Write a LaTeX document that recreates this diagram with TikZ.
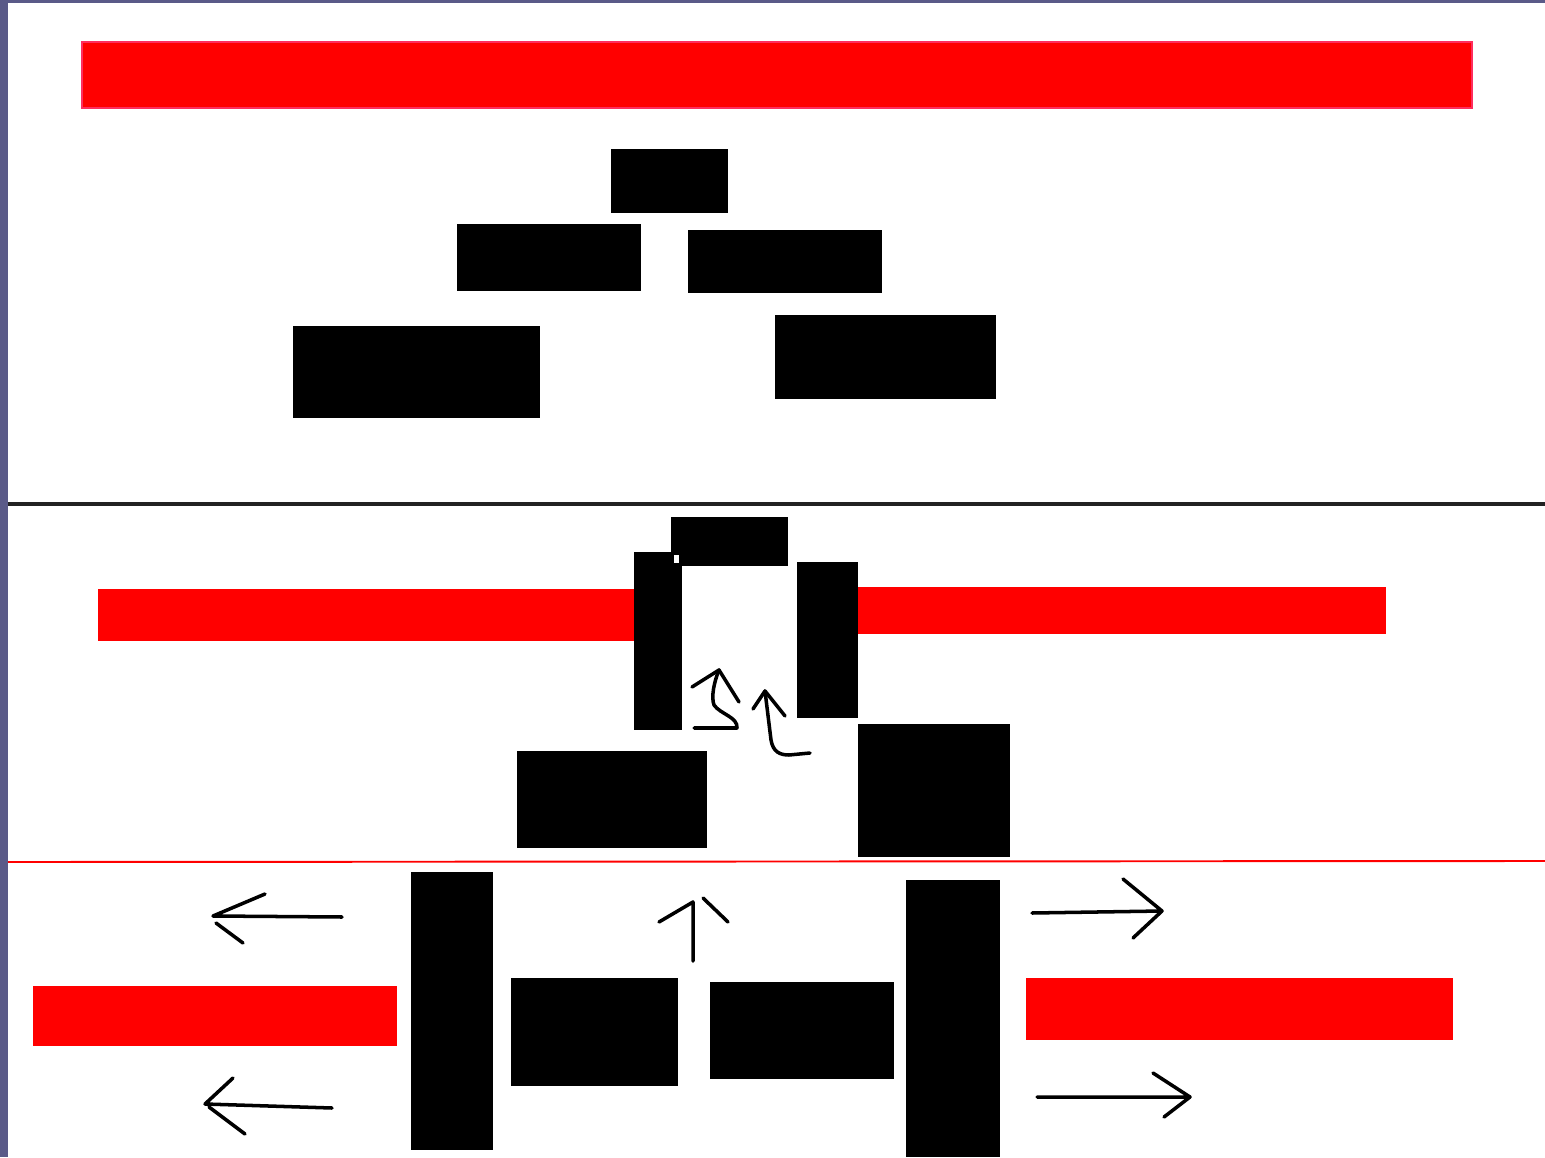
\documentclass[tikz,border=0pt]{standalone}
\usetikzlibrary{positioning}
\definecolor{slate}{HTML}{5A5A88}
\definecolor{barred}{HTML}{FF0000}
\definecolor{barrim}{HTML}{FF2D5E}
\definecolor{rule}{HTML}{222222}

\begin{document}
\begin{tikzpicture}[blk/.style={rectangle,fill=black,inner sep=0pt,outer sep=0pt},bar/.style={rectangle,fill=barred,inner sep=0pt,outer sep=0pt},pen/.style={line width=2pt,line cap=round,line join=round}]
\useasboundingbox (0,0) rectangle (30.9,23.14);
\fill[white] (0,0) rectangle (30.9,23.14);
\fill[slate] (0,0) rectangle (0.16,23.14);
\fill[slate] (0,23.08) rectangle (30.9,23.14);
% top part
\node[bar,draw=barrim,line width=1.1pt,minimum width=27.8cm,minimum height=1.32cm] (topbar) at (15.54,21.64) {};
\node[blk,minimum width=2.34cm,minimum height=1.28cm] (t1) at (13.39,19.52) {};
\node[blk,minimum width=3.68cm,minimum height=1.34cm] (t2) at (10.98,17.99) {};
\node[blk,minimum width=3.88cm,minimum height=1.26cm] (t3) at (15.70,17.91) {};
\node[blk,minimum width=4.94cm,minimum height=1.84cm] (t4) at (8.33,15.70) {};
\node[blk,minimum width=4.42cm,minimum height=1.68cm] (t5) at (17.71,16.00) {};
\draw[rule,line width=2pt] (0.16,13.06) -- (30.9,13.06);
% middle part
\node[bar,minimum width=10.84cm,minimum height=1.04cm] (mbarl) at (7.38,10.84) {};
\node[bar,minimum width=10.62cm,minimum height=0.94cm] (mbarr) at (22.41,10.93) {};
\node[blk,minimum width=2.34cm,minimum height=0.98cm] (mtop) at (14.59,12.31) {};
\node[blk,minimum width=0.96cm,minimum height=3.56cm] (mleft) at (13.16,10.32) {};
\node[blk,minimum width=1.22cm,minimum height=3.12cm] (mright) at (16.55,10.34) {};
\node[blk,minimum width=3.80cm,minimum height=1.94cm] (mlow1) at (12.24,7.15) {};
\node[blk,minimum width=3.04cm,minimum height=2.66cm] (mlow2) at (18.68,7.33) {};
\fill[white] (13.48,11.88) rectangle (13.58,12.04);
\draw[pen] (13.84,9.40) -- (14.38,9.74) -- (14.78,9.10);
\draw[pen] (14.38,9.74) .. controls (14.28,9.50) and (14.22,9.20) .. (14.28,9.04) .. controls (14.40,8.86) and (14.76,8.80) .. (14.74,8.58) -- (13.88,8.58);
\draw[pen] (15.06,8.96) -- (15.30,9.32) -- (15.70,8.82);
\draw[pen] (15.30,9.32) -- (15.42,8.34) .. controls (15.46,8.10) and (15.60,8.04) .. (15.78,8.04) -- (16.20,8.08);
\draw[barred,line width=1.1pt] (0.16,5.90) -- (30.9,5.92);
% bottom part
\node[bar,minimum width=7.28cm,minimum height=1.20cm] (bbarl) at (4.30,2.82) {};
\node[bar,minimum width=8.54cm,minimum height=1.24cm] (bbarr) at (24.79,2.96) {};
\node[blk,minimum width=1.64cm,minimum height=5.56cm] (b1) at (9.04,2.92) {};
\node[blk,minimum width=3.34cm,minimum height=2.16cm] (b2) at (11.89,2.50) {};
\node[blk,minimum width=3.68cm,minimum height=1.94cm] (b3) at (16.04,2.53) {};
\node[blk,minimum width=1.88cm,minimum height=5.54cm] (b4) at (19.06,2.77) {};
\draw[pen] (5.30,5.26) -- (4.26,4.82) -- (6.84,4.80);
\draw[pen] (4.32,4.68) -- (4.86,4.28);
\draw[pen] (4.66,1.58) -- (4.10,1.06) -- (6.64,0.98);
\draw[pen] (4.18,1.00) -- (4.90,0.46);
\draw[pen] (13.18,4.70) -- (13.86,5.10) -- (13.86,3.92);
\draw[pen] (14.06,5.18) -- (14.56,4.70);
\draw[pen] (20.64,4.88) -- (23.24,4.92) -- (22.46,5.56);
\draw[pen] (23.24,4.92) -- (22.66,4.38);
\draw[pen] (20.74,1.20) -- (23.80,1.20) -- (23.06,1.68);
\draw[pen] (23.80,1.20) -- (23.28,0.80);
\end{tikzpicture}
\end{document}
